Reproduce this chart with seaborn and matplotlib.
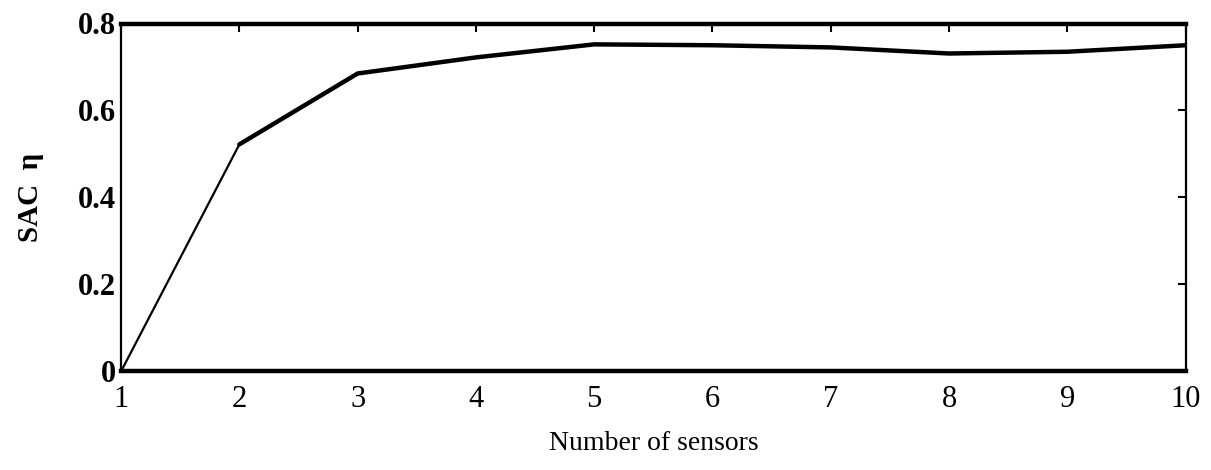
import numpy as np
import pandas as pd
import seaborn as sns
import matplotlib.pyplot as plt

# Data
n_sensors = [1, 2, 3, 4, 5, 6, 7, 8, 9, 10]
sac_eta = [0.0, 0.522, 0.685, 0.722, 0.752, 0.750, 0.745, 0.731, 0.735, 0.750]
x_ticks = [1, 2, 3, 4, 5, 6, 7, 8, 9, 10]
y_ticks = [0, 0.2, 0.4, 0.6, 0.8]
y_ticklabels = ['0', '0.2', '0.4', '0.6', '0.8']

df = pd.DataFrame({'n': n_sensors, 'sac': sac_eta})

sns.set_style('white')
plt.rcParams['font.family'] = ['Liberation Serif', 'DejaVu Serif']
plt.rcParams['text.color'] = 'black'
plt.rcParams['axes.labelcolor'] = 'black'

fig, ax = plt.subplots(figsize=(12.11, 4.7), dpi=100)
fig.subplots_adjust(left=0.1, right=0.979, top=0.95, bottom=0.21)

# first segment drawn thin, rest thick (as in the scanned figure)
sns.lineplot(data=df.iloc[:2], x='n', y='sac', color='black', linewidth=1.6, ax=ax)
sns.lineplot(data=df.iloc[1:], x='n', y='sac', color='black', linewidth=3.2, ax=ax)

ax.set_xlim(1, 10)
ax.set_ylim(0, 0.8)
ax.set_xticks(x_ticks)
ax.set_yticks(y_ticks)
ax.set_yticklabels(y_ticklabels)
ax.tick_params(direction='in', length=6, width=1.5, top=True, right=True,
               labelsize=22, colors='black')
ax.tick_params(axis='x', pad=10)
ax.tick_params(axis='y', pad=4)
for lab in ax.get_yticklabels():
    lab.set_fontweight('bold')

for side in ['top', 'bottom']:
    ax.spines[side].set_linewidth(3.2)
for side in ['left', 'right']:
    ax.spines[side].set_linewidth(1.6)
for sp in ax.spines.values():
    sp.set_color('black')

ax.set_xlabel('Number of sensors', fontsize=20, labelpad=12, color='black')
ax.set_ylabel('SAC  η', fontsize=21, fontweight='bold', labelpad=24, color='black')

fig.savefig('out.png', dpi=100)
